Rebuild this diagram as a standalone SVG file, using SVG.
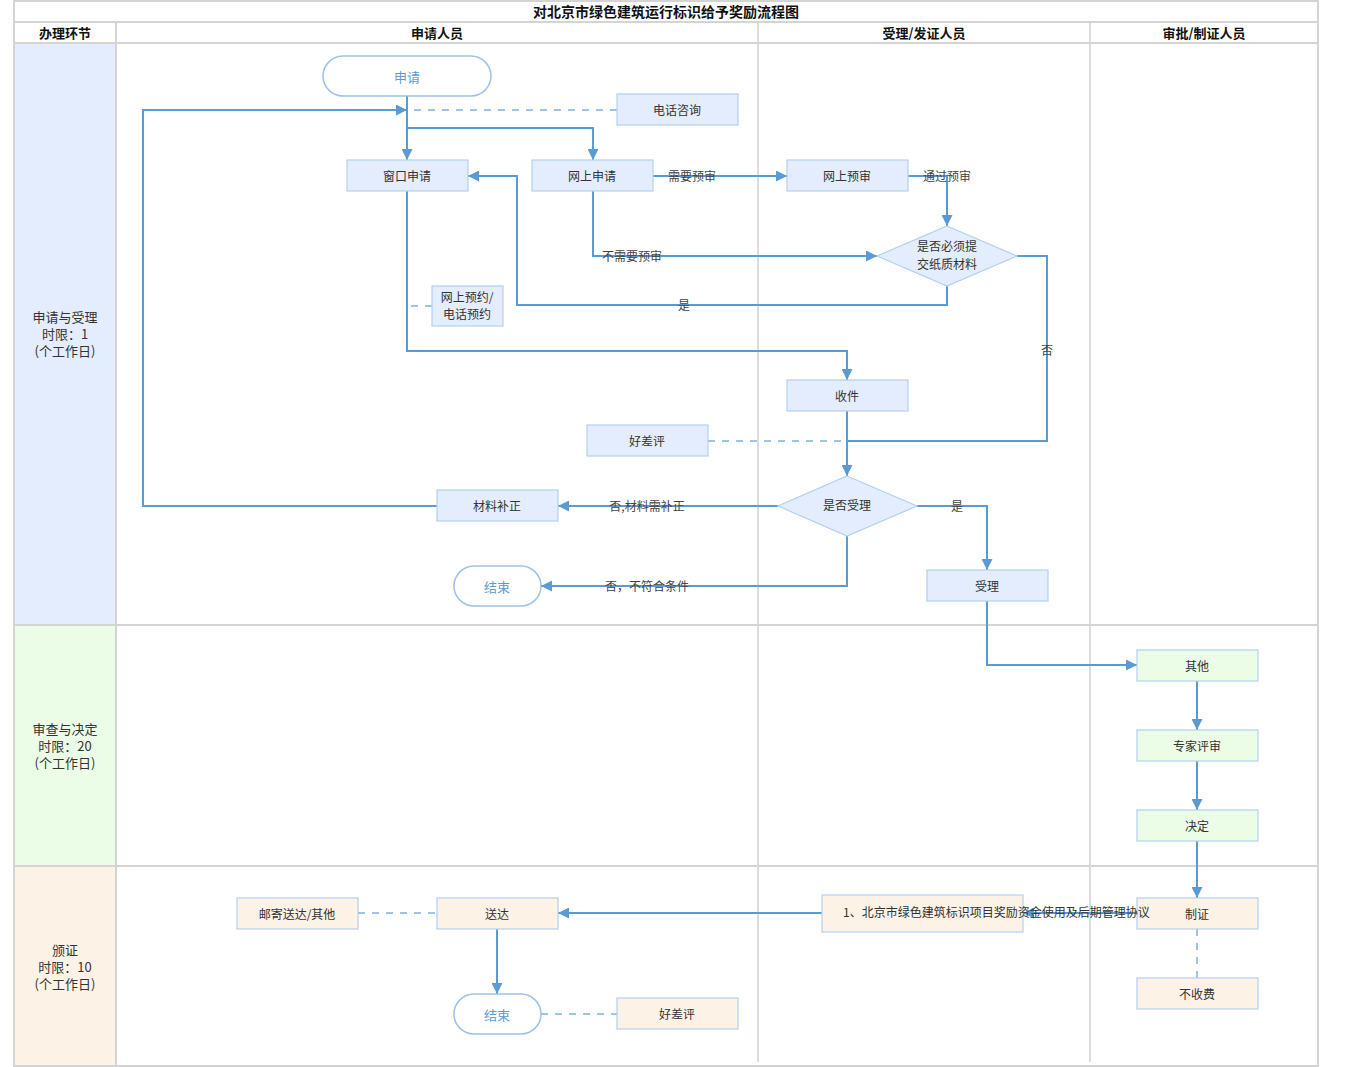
<svg xmlns="http://www.w3.org/2000/svg" width="1350" height="1067" viewBox="0 0 1350 1067">
<style>
text{font-family:"Noto Sans CJK SC","Liberation Sans",sans-serif;fill:#333;font-size:12px;text-anchor:middle;dominant-baseline:central}
.hd{font-size:13px;font-weight:bold;fill:#111}
.ti{font-size:14px;font-weight:bold;fill:#111}
.lane{font-size:13px;fill:#333}
.grid{stroke:#d4d4d4;stroke-width:2;fill:none}
.vgrid{stroke:#dcdcdc;stroke-width:2;fill:none}
.nb{fill:#e3edfd;stroke:#b3d0ef;stroke-width:1.2}
.ng{fill:#ebfde6;stroke:#b3d0ef;stroke-width:1.2}
.no{fill:#fdf2e6;stroke:#b3d0ef;stroke-width:1.2}
.term{fill:#fff;stroke:#9cc2e8;stroke-width:1.5}
.tt{fill:#5b9bd5;font-size:13px}
.c{stroke:#5b9bd5;stroke-width:2;fill:none}
.ca{stroke:#5b9bd5;stroke-width:2;fill:none;marker-end:url(#arr)}
.d{stroke:#9dc3e6;stroke-width:2;fill:none;stroke-dasharray:7,7}
.lbl{fill:#444}
</style>
<defs>
<marker id="arr" viewBox="0 0 10 10" refX="10" refY="5" markerWidth="11" markerHeight="11" markerUnits="userSpaceOnUse" orient="auto"><path d="M0,0 L10,5 L0,10 z" fill="#5b9bd5"/></marker>
</defs>
<g id="frame">
<rect x="15" y="44" width="100" height="580" fill="#e3edfd"/>
<rect x="15" y="626" width="100" height="239" fill="#ebfde6"/>
<rect x="15" y="867" width="100" height="198" fill="#fdf2e6"/>
<line class="vgrid" x1="758" y1="22" x2="758" y2="1062"/>
<line class="vgrid" x1="1090" y1="22" x2="1090" y2="1062"/>
<rect class="grid" x="14" y="1" width="1304" height="1065"/>
<line class="grid" x1="14" y1="22" x2="1318" y2="22"/>
<line class="grid" x1="14" y1="43" x2="1318" y2="43"/>
<line class="grid" x1="116" y1="22" x2="116" y2="1066"/>
<line class="grid" x1="14" y1="625" x2="1318" y2="625"/>
<line class="grid" x1="14" y1="866" x2="1318" y2="866"/>
<text class="ti" x="666" y="11">对北京市绿色建筑运行标识给予奖励流程图</text>
<text class="hd" x="65" y="32">办理环节</text>
<text class="hd" x="437" y="32">申请人员</text>
<text class="hd" x="924" y="32">受理/发证人员</text>
<text class="hd" x="1204" y="32">审批/制证人员</text>
<text class="lane" x="65" y="316">申请与受理</text>
<text class="lane" x="65" y="333">时限：1</text>
<text class="lane" x="65" y="350">(个工作日)</text>
<text class="lane" x="65" y="728">审查与决定</text>
<text class="lane" x="65" y="745">时限：20</text>
<text class="lane" x="65" y="762">(个工作日)</text>
<text class="lane" x="65" y="949">颁证</text>
<text class="lane" x="65" y="966">时限：10</text>
<text class="lane" x="65" y="983">(个工作日)</text>
</g>
<g id="connectors">
<line class="ca" x1="407" y1="96" x2="407" y2="160"/>
<polyline class="ca" points="407,128 593,128 593,160"/>
<line class="d" x1="617" y1="110" x2="407" y2="110"/>
<polyline class="ca" points="437,506 143,506 143,110 407,110"/>
<line class="ca" x1="653" y1="176" x2="787" y2="176"/>
<polyline class="ca" points="908,176 947,176 947,226"/>
<polyline class="ca" points="593,191 593,256 877,256"/>
<polyline class="ca" points="947,286 947,305 517,305 517,176 468,176"/>
<polyline class="c" points="1017,256 1047,256 1047,441 847,441"/>
<polyline class="ca" points="407,191 407,351 847,351 847,380"/>
<line class="d" x1="432" y1="306" x2="407" y2="306"/>
<line class="ca" x1="847" y1="411" x2="847" y2="476"/>
<line class="d" x1="708" y1="441" x2="847" y2="441"/>
<line class="ca" x1="778" y1="506" x2="558" y2="506"/>
<polyline class="ca" points="847,536 847,586 541,586"/>
<polyline class="ca" points="917,506 987,506 987,570"/>
<polyline class="ca" points="987,601 987,665 1137,665"/>
<line class="ca" x1="1197" y1="681" x2="1197" y2="730"/>
<line class="ca" x1="1197" y1="761" x2="1197" y2="810"/>
<line class="ca" x1="1197" y1="841" x2="1197" y2="898"/>
<line class="ca" x1="1137" y1="913" x2="1023" y2="913"/>
<line class="ca" x1="822" y1="913" x2="558" y2="913"/>
<line class="d" x1="1197" y1="929" x2="1197" y2="978"/>
<line class="d" x1="358" y1="913" x2="437" y2="913"/>
<line class="ca" x1="497" y1="929" x2="497" y2="994"/>
<line class="d" x1="541" y1="1014" x2="617" y2="1014"/>
<text class="lbl" x="692" y="175">需要预审</text>
<text class="lbl" x="947" y="175">通过预审</text>
<text class="lbl" x="632" y="255">不需要预审</text>
<text class="lbl" x="684" y="304">是</text>
<text class="lbl" x="1047" y="349">否</text>
<text class="lbl" x="647" y="505">否,材料需补正</text>
<text class="lbl" x="647" y="585">否，不符合条件</text>
<text class="lbl" x="957" y="505">是</text>
</g>
<g id="n-shenqing"><rect class="term" x="323" y="56" width="168" height="40" rx="20"/><text class="tt" x="407" y="76">申请</text></g>
<g id="n-dianhua"><rect class="nb" x="617" y="94" width="121" height="31"/><text x="677" y="109">电话咨询</text></g>
<g id="n-chuangkou"><rect class="nb" x="347" y="160" width="121" height="31"/><text x="407" y="175">窗口申请</text></g>
<g id="n-wangshang"><rect class="nb" x="532" y="160" width="121" height="31"/><text x="592" y="175">网上申请</text></g>
<g id="n-yushen"><rect class="nb" x="787" y="160" width="121" height="31"/><text x="847" y="175">网上预审</text></g>
<g id="n-zhizhi"><polygon class="nb" points="947,226 1017,256 947,286 877,256"/><text x="947" y="245">是否必须提</text><text x="947" y="263">交纸质材料</text></g>
<g id="n-yuyue"><rect class="nb" x="432" y="286" width="71" height="40"/><text x="467" y="296">网上预约/</text><text x="467" y="313">电话预约</text></g>
<g id="n-shoujian"><rect class="nb" x="787" y="380" width="121" height="31"/><text x="847" y="395">收件</text></g>
<g id="n-haocha1"><rect class="nb" x="587" y="425" width="121" height="31"/><text x="647" y="440">好差评</text></g>
<g id="n-shifou"><polygon class="nb" points="847,476 917,506 847,536 778,506"/><text x="847" y="504">是否受理</text></g>
<g id="n-buzheng"><rect class="nb" x="437" y="490" width="121" height="31"/><text x="497" y="505">材料补正</text></g>
<g id="n-end1"><rect class="term" x="454" y="566" width="87" height="40" rx="20"/><text class="tt" x="497" y="586">结束</text></g>
<g id="n-shouli"><rect class="nb" x="927" y="570" width="121" height="31"/><text x="987" y="585">受理</text></g>
<g id="n-qita"><rect class="ng" x="1137" y="650" width="121" height="31"/><text x="1197" y="665">其他</text></g>
<g id="n-zhuanjia"><rect class="ng" x="1137" y="730" width="121" height="31"/><text x="1197" y="745">专家评审</text></g>
<g id="n-jueding"><rect class="ng" x="1137" y="810" width="121" height="31"/><text x="1197" y="825">决定</text></g>
<g id="n-zhizheng"><rect class="no" x="1137" y="898" width="121" height="31"/><text x="1197" y="913">制证</text></g>
<g id="n-bushoufei"><rect class="no" x="1137" y="978" width="121" height="31"/><text x="1197" y="993">不收费</text></g>
<g id="n-xieyi"><rect class="no" x="822" y="895" width="201" height="37"/><text x="843" y="911" style="text-anchor:start">1、北京市绿色建筑标识项目奖励资金使用及后期管理协议</text></g>
<g id="n-songda"><rect class="no" x="437" y="898" width="121" height="31"/><text x="497" y="913">送达</text></g>
<g id="n-youji"><rect class="no" x="237" y="898" width="121" height="31"/><text x="297" y="913">邮寄送达/其他</text></g>
<g id="n-end2"><rect class="term" x="454" y="994" width="87" height="40" rx="20"/><text class="tt" x="497" y="1014">结束</text></g>
<g id="n-haocha2"><rect class="no" x="617" y="998" width="121" height="31"/><text x="677" y="1013">好差评</text></g>
</svg>
